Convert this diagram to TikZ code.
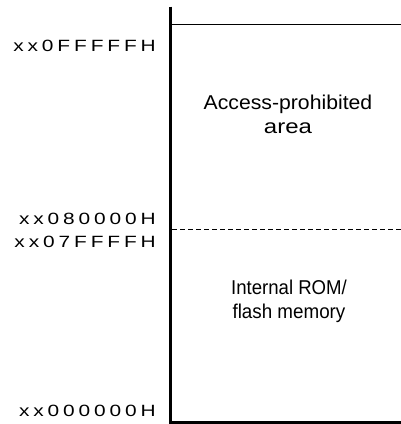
\documentclass[tikz,border=0pt]{standalone}
\usepackage{fontspec}
\usepackage{graphicx}
\setmainfont{Liberation Sans}
\newfontfamily\addrfont[FakeStretch=1.28]{Liberation Sans}
\makeatletter
\newcommand\lsp[1]{\lsp@aux#1\relax}
\def\lsp@aux#1#2{#1\ifx\relax#2\else\kern3.9pt\expandafter\lsp@aux\expandafter#2\fi}
\makeatother
\tikzset{
  addr/.style={anchor=base east, inner sep=0pt, font=\addrfont\fontsize{16.3}{18}\selectfont},
  area/.style={align=center, inner sep=0pt, font=\fontsize{20}{23.4}\selectfont},
  thickline/.style={line width=2.7pt},
  thinline/.style={line width=0.9pt},
}
\begin{document}
\begin{tikzpicture}[x=1pt,y=-1pt]
\useasboundingbox (0,0) rectangle (401,424);
% frame
\coordinate (top) at (170.5,6.7);
\coordinate (bl) at (170.5,422.3);
\coordinate (br) at (401,422.3);
\coordinate (tl) at (171,24);
\coordinate (tr) at (401,24);
\coordinate (dl) at (172,229);
\coordinate (dr) at (401,229);
\draw[thickline] (top) -- (bl.center) -- (br);
\draw[thinline] (tl) -- (tr);
\draw[thinline, dash pattern=on 4.5pt off 3.5pt] (dl) -- (dr);
% address labels
\node[addr] (a1) at (156,51) {\lsp{xx0FFFFFH}};
\node[addr] (a2) at (156,224) {\lsp{xx080000H}};
\node[addr] (a3) at (156,247) {\lsp{xx07FFFFH}};
\node[addr] (a4) at (156,416.7) {\lsp{xx000000H}};
% area labels
\node[area, anchor=base] (p1) at (288,133.3) {\scalebox{1.06}[1]{Access-prohibited}\\\scalebox{1.2}[1]{area}};
\node[area, anchor=base] (p2) at (289,318.3) {\scalebox{0.93}[1]{Internal ROM/}\\\scalebox{0.94}[1]{flash memory}};
\end{tikzpicture}
\end{document}
